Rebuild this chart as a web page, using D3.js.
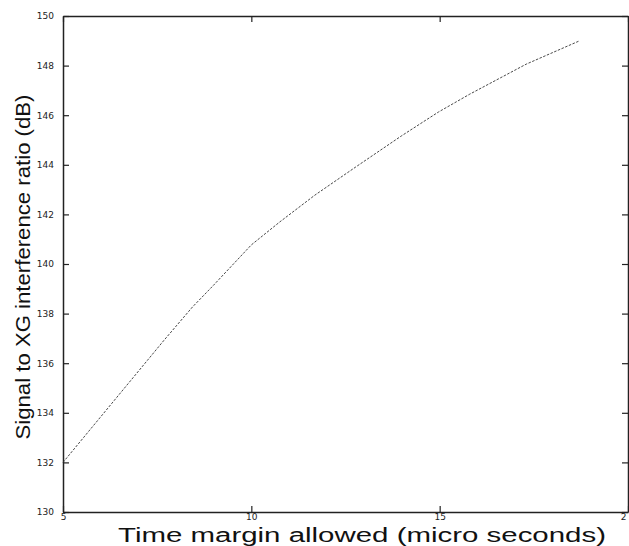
<!DOCTYPE html>
<meta charset="utf-8">
<style>
body { margin: 0; background: #fff; }
.axis path, .axis line { stroke: #222; }
</style>
<body>
<script src="https://cdnjs.cloudflare.com/ajax/libs/d3/7.8.5/d3.min.js"></script>
<script>
// values
var timeMargin = [5, 7.69, 8.44, 9.0, 10, 10.75, 11.69, 12.77, 13.98, 14.97, 15.8, 17.3, 18.7];
var sxgRatio   = [132.0, 136.94, 138.27, 139.15, 140.77, 141.69, 142.78, 143.91, 145.16, 146.13, 146.85, 148.06, 148.99];
var xTicks = [5, 10, 15, 20];
var yTicks = [130, 132, 134, 136, 138, 140, 142, 144, 146, 148, 150];

var w = 629, h = 546;
var mLeft = 63, mRight = 628, mTop = 16, mBottom = 512;

var svg = d3.select("body").append("svg")
	.attr("width", w)
	.attr("height", h);

var x = d3.scaleLinear().domain([5, 20]).range([mLeft, mRight]);
var y = d3.scaleLinear().domain([130, 150]).range([mBottom, mTop]);

// box with inward ticks on all four sides
var xAxisG = svg.append("g").attr("class", "axis")
	.attr("transform", "translate(0," + mBottom + ")")
	.call(d3.axisBottom(x).tickValues(xTicks).tickSizeInner(-6).tickSizeOuter(0).tickPadding(2)
		.tickFormat(function(d) { return d == 20 ? "2" : d; }));
// the last label sits on the page edge, keep it inside
xAxisG.selectAll(".tick text").filter(function(d) { return d == 20; })
	.attr("text-anchor", "end").attr("dx", -2);
svg.append("g").attr("class", "axis")
	.attr("transform", "translate(0," + mTop + ")")
	.call(d3.axisTop(x).tickValues(xTicks).tickSizeInner(-6).tickSizeOuter(0).tickFormat(""));
svg.append("g").attr("class", "axis")
	.attr("transform", "translate(" + mLeft + ",0)")
	.call(d3.axisLeft(y).tickValues(yTicks).tickSizeInner(-6).tickSizeOuter(0).tickPadding(9));
svg.append("g").attr("class", "axis")
	.attr("transform", "translate(" + mRight + ",0)")
	.call(d3.axisRight(y).tickValues(yTicks).tickSizeInner(-6).tickSizeOuter(0).tickFormat(""));

svg.selectAll(".axis path").attr("stroke-width", 1.5);
svg.selectAll(".axis line").attr("stroke-width", 1.2);
svg.selectAll(".axis .tick text")
	.attr("font-family", "DejaVu Sans, sans-serif")
	.attr("font-size", 9)
	.attr("fill", "#222");

var line = d3.line()
	.x(function(d, i) { return x(timeMargin[i]); })
	.y(function(d) { return y(d); });

svg.append("path")
	.datum(sxgRatio)
	.attr("d", line)
	.attr("fill", "none")
	.attr("stroke", "#333")
	.attr("stroke-width", 0.9)
	.attr("stroke-dasharray", "2.5 1.5");

svg.append("text")
	.attr("x", 362)
	.attr("y", 542)
	.attr("text-anchor", "middle")
	.attr("font-family", "Liberation Sans, Arial, sans-serif")
	.attr("font-size", 20)
	.attr("textLength", 488)
	.attr("lengthAdjust", "spacingAndGlyphs")
	.attr("fill", "#111")
	.text("Time margin allowed (micro seconds)");

svg.append("text")
	.attr("transform", "translate(30,267) rotate(-90)")
	.attr("text-anchor", "middle")
	.attr("font-family", "Liberation Sans Narrow, Liberation Sans, Arial, sans-serif")
	.attr("font-size", 21)
	.attr("textLength", 345)
	.attr("lengthAdjust", "spacingAndGlyphs")
	.attr("fill", "#111")
	.text("Signal to XG interference ratio (dB)");
</script>
</body>
